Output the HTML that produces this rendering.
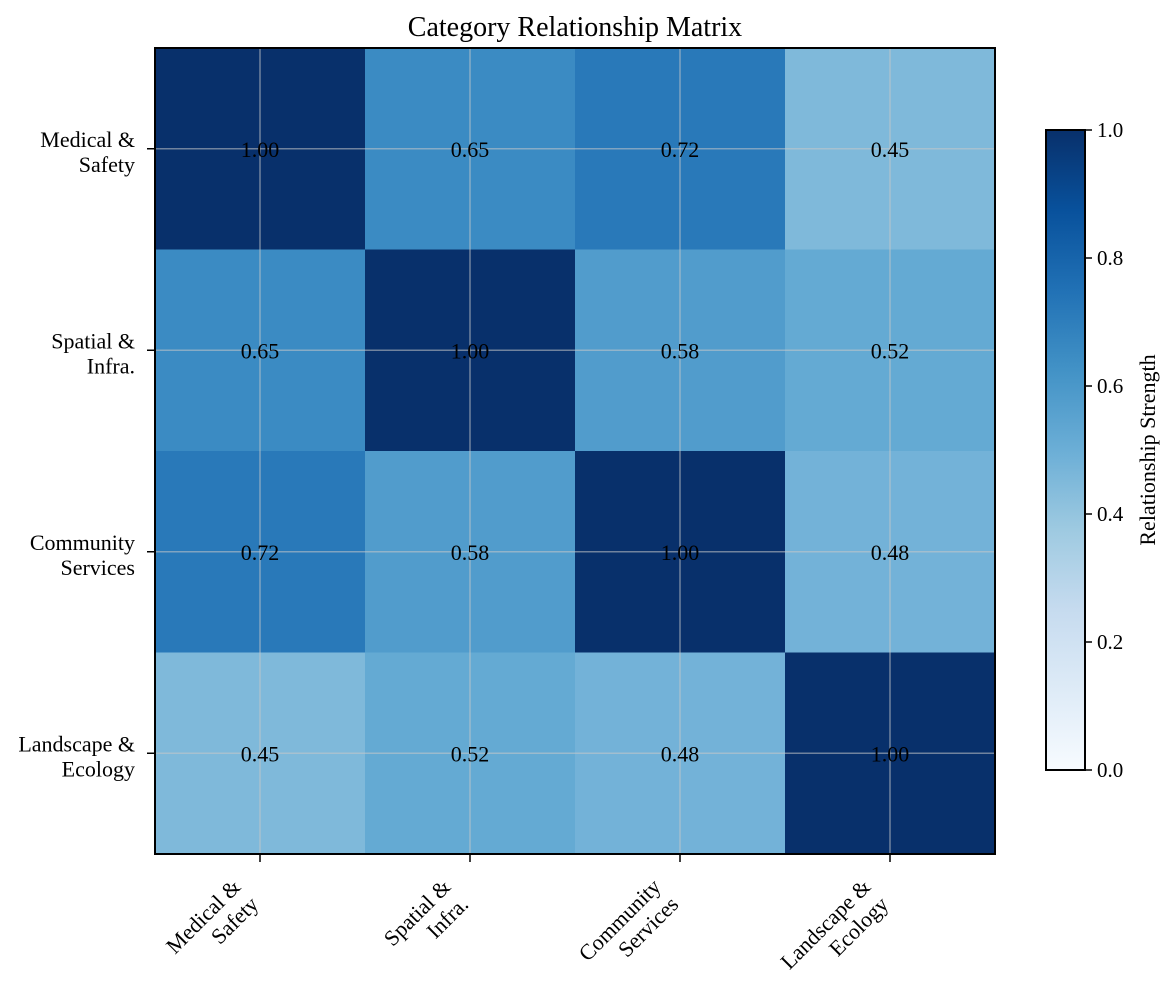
<!DOCTYPE html>
<html><head><meta charset="utf-8"><style>
body{margin:0;background:#fff}
text{font-family:"Liberation Serif",serif;fill:#000}
</style></head><body>
<svg id="chart" width="1170" height="981" xmlns="http://www.w3.org/2000/svg">
<defs><linearGradient id="cbg" x1="0" y1="1" x2="0" y2="0">
<stop offset="0" stop-color="#f7fbff"/><stop offset="0.125" stop-color="#deebf7"/><stop offset="0.25" stop-color="#c6dbef"/><stop offset="0.375" stop-color="#9ecae1"/><stop offset="0.5" stop-color="#6baed6"/><stop offset="0.625" stop-color="#4292c6"/><stop offset="0.75" stop-color="#2171b5"/><stop offset="0.875" stop-color="#08519c"/><stop offset="1" stop-color="#08306b"/>
</linearGradient></defs>
<text x="575" y="36" font-size="28" text-anchor="middle">Category Relationship Matrix</text>
<g id="cells"></g><g id="grid"></g><g id="labels"></g>
<rect x="155" y="48" width="840" height="806" fill="none" stroke="#000" stroke-width="2"/>
<rect x="1046" y="130" width="39" height="640" fill="url(#cbg)" stroke="#000" stroke-width="2"/>
<g id="cbticks"></g>
<text transform="translate(1155,450) rotate(-90)" font-size="22" text-anchor="middle">Relationship Strength</text>
</svg>
<script>
const categories=[["Medical &","Safety"],["Spatial &","Infra."],["Community","Services"],["Landscape &","Ecology"]];
const values=[[1.00,0.65,0.72,0.45],[0.65,1.00,0.58,0.52],[0.72,0.58,1.00,0.48],[0.45,0.52,0.48,1.00]];
const cbTicks=[0,0.2,0.4,0.6,0.8,1.0];
const NS="http://www.w3.org/2000/svg";
const X0=155,Y0=48,W=840,H=806,n=categories.length,cw=W/n,ch=H/n;
const stops=["#f7fbff","#deebf7","#c6dbef","#9ecae1","#6baed6","#4292c6","#2171b5","#08519c","#08306b"];
function hex(h){return [1,3,5].map(i=>parseInt(h.substr(i,2),16));}
function cmap(v){v=Math.max(0,Math.min(1,v));const p=v*8,i=Math.min(7,Math.floor(p)),t=p-i;const a=hex(stops[i]),b=hex(stops[i+1]);return "rgb("+a.map((c,k)=>Math.round(c+(b[k]-c)*t)).join(",")+")";}
function xs(j){return X0+j*cw;} function ys(i){return Y0+i*ch;}
function mk(tag,attrs,parent){const e=document.createElementNS(NS,tag);for(const k in attrs)e.setAttribute(k,attrs[k]);parent.appendChild(e);return e;}
const cells=document.getElementById('cells'),grid=document.getElementById('grid'),lab=document.getElementById('labels');
values.forEach((row,i)=>row.forEach((v,j)=>{
 const r=mk('rect',{x:xs(j),y:ys(i),width:cw+0.5,height:ch+0.5,fill:cmap(v)},cells);
 
 
 const t=mk('text',{x:xs(j)+cw/2,y:ys(i)+ch/2+8,'font-size':22,'text-anchor':'middle'},lab);
 t.textContent=v.toFixed(2);
 
 
}));
for(let k=0;k<n;k++){
 const cx=xs(k)+cw/2,cy=ys(k)+ch/2;
 mk('line',{x1:cx,y1:Y0,x2:cx,y2:Y0+H,stroke:'rgba(200,200,200,0.55)','stroke-width':1.5},grid);
 mk('line',{x1:X0,y1:cy,x2:X0+W,y2:cy,stroke:'rgba(200,200,200,0.55)','stroke-width':1.5},grid);
 mk('line',{x1:cx,y1:Y0+H,x2:cx,y2:Y0+H+8,stroke:'#000','stroke-width':1.5},grid);
 mk('line',{x1:X0-8,y1:cy,x2:X0,y2:cy,stroke:'#000','stroke-width':1.5},grid);
 const yl=mk('text',{x:X0-20,y:cy-2,'font-size':22,'text-anchor':'end'},lab);
 
 
 mk('tspan',{x:X0-20,dy:0},yl).textContent=categories[k][0];
 mk('tspan',{x:X0-20,dy:25},yl).textContent=categories[k][1];
 const xl=mk('text',{transform:'translate('+(cx-18)+','+(Y0+H+34)+') rotate(-45)','font-size':22,'text-anchor':'end'},lab);
 
 
 mk('tspan',{x:0,y:0},xl).textContent=categories[k][0];
 mk('tspan',{x:0,dy:25},xl).textContent=categories[k][1];
}
const cb=document.getElementById('cbticks');
cbTicks.forEach(v=>{
 const y=770-v*640;
 mk('line',{x1:1085,y1:y,x2:1092,y2:y,stroke:'#000','stroke-width':1.5},cb);
 const t=mk('text',{x:1097,y:y+7,'font-size':21},cb);
 t.textContent=v.toFixed(1);
 
 
});
</script>
</body></html>
